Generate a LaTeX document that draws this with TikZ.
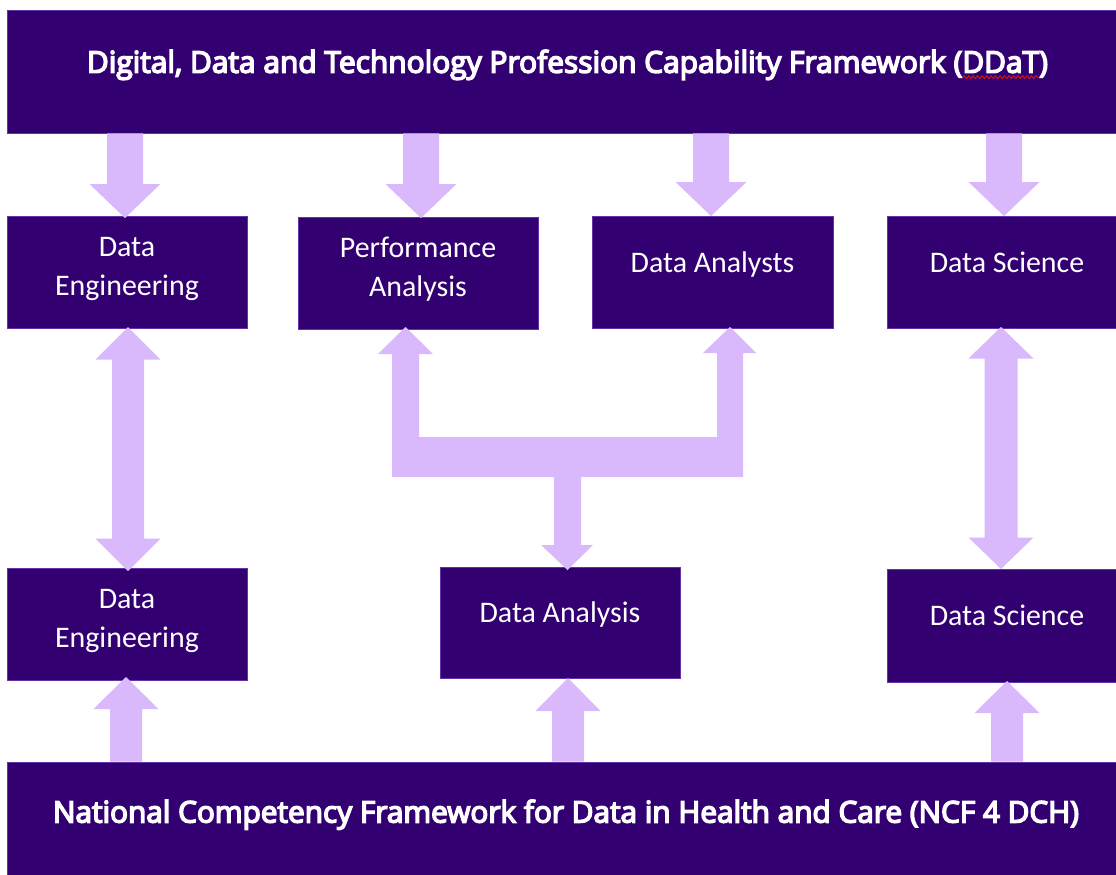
\documentclass[tikz,border=0pt]{standalone}
\usepackage{fontspec}
\setmainfont{Carlito}
\newfontfamily\ttlfont{Open Sans}[FakeBold=5]
\usetikzlibrary{calc,decorations.pathmorphing}
\definecolor{nhspurple}{RGB}{51,0,114}
\definecolor{lav}{RGB}{217,185,251}
\definecolor{edgepurple}{RGB}{100,50,170}
\definecolor{spellred}{RGB}{210,20,20}
\newlength\wavA
\newlength\wavB
\newlength\ttlwA
\newlength\ttlwB
\newcommand{\ddattext}{Digital, Data and Technology Profession Capability Framework (DDaT)}
\newcommand{\ncftext}{National Competency Framework for Data in Health and Care (NCF 4 DCH)}
% single block arrow: #1 tail coordinate, #2 tip coordinate, #3 shaft half width, #4 head half width, #5 head length
\newcommand{\vblock}[5]{%
  \fill[arrowfill] let \p1=(#1), \p2=(#2), \n1={sign(\y1-\y2)} in
    ({\x2-#3},\y1) -- ({\x2-#3},{\y2+\n1*#5}) -- ({\x2-#4},{\y2+\n1*#5}) -- (\x2,\y2)
    -- ({\x2+#4},{\y2+\n1*#5}) -- ({\x2+#3},{\y2+\n1*#5}) -- ({\x2+#3},\y1) -- cycle;}
% double block arrow between two tips
\newcommand{\dblock}[5]{%
  \fill[arrowfill] let \p1=(#1), \p2=(#2), \n1={sign(\y1-\y2)} in
    (\x1,\y1) -- ({\x1+#4},{\y1-\n1*#5}) -- ({\x1+#3},{\y1-\n1*#5}) -- ({\x1+#3},{\y2+\n1*#5})
    -- ({\x1+#4},{\y2+\n1*#5}) -- (\x2,\y2) -- ({\x1-#4},{\y2+\n1*#5}) -- ({\x1-#3},{\y2+\n1*#5})
    -- ({\x1-#3},{\y1-\n1*#5}) -- ({\x1-#4},{\y1-\n1*#5}) -- cycle;}
\tikzset{
  box/.style={fill=nhspurple, draw=edgepurple, line width=0.6bp, inner sep=0pt,
    minimum width=240bp, minimum height=112bp},
  lbl/.style={text=white, font=\fontsize{30}{38.5}\selectfont, align=center, inner sep=0pt},
  ttlA/.style={text=white, font=\ttlfont\fontsize{\ttlsizeA}{\ttlsizeA}\selectfont, inner sep=0pt},
  ttlB/.style={text=white, font=\ttlfont\fontsize{\ttlsizeB}{\ttlsizeB}\selectfont, inner sep=0pt},
  arrowfill/.style={fill=lav},
  wavy/.style={draw=spellred, line width=1bp, decorate,
    decoration={snake, segment length=4.5bp, amplitude=1.4bp}}
}
\begin{document}
% fit the two framework titles to the widths they have in the reference
\settowidth\ttlwA{\ttlfont\fontsize{27}{30}\selectfont\ddattext}%
\settowidth\ttlwB{\ttlfont\fontsize{27}{30}\selectfont\ncftext}%
\pgfmathsetmacro\ttlsizeA{27*(964.6/\ttlwA)}%
\pgfmathsetmacro\ttlsizeB{27*(1029.8/\ttlwB)}%
\settowidth\wavA{\ttlfont\fontsize{\ttlsizeA}{\ttlsizeA}\selectfont DDaT)}%
\settowidth\wavB{\ttlfont\fontsize{\ttlsizeA}{\ttlsizeA}\selectfont )}%
\begin{tikzpicture}[x=1bp,y=-1bp]
\useasboundingbox (0,0) rectangle (1116,875);
\fill[white] (0,0) rectangle (1116,875);
\clip (0,0) rectangle (1116,875);

% frameworks
\node[box, minimum width=1120bp, minimum height=123bp] (ddat) at (567,71.5) {};
\node[box, minimum width=1120bp, minimum height=123bp] (ncf) at (567,823.5) {};

% role boxes, row 1
\node[box] (de1) at (127,272) {};
\node[box] (pa) at (418,273) {};
\node[box, minimum width=241bp] (da) at (712.5,272) {};
\node[box] (ds1) at (1007,272) {};
% role boxes, row 2
\node[box] (de2) at (127,624) {};
\node[box, minimum height=111bp] (dan) at (560,622.5) {};
\node[box, minimum height=113bp] (ds2) at (1007,625.5) {};

% texts
\node[ttlA, anchor=base] (ddatx) at (567.5,72.7) {\ddattext};
\node[ttlB, anchor=base] (ncfx) at (566,822.5) {\ncftext};
\node[lbl, anchor=base] (de1x) at ([yshift=-23bp]de1.center) {Data\\Engineering};
\node[lbl, anchor=base] (pax) at ([yshift=-23bp]pa.center) {Performance\\Analysis};
\node[lbl, anchor=base] (dax) at (da.center) {Data Analysts};
\node[lbl, anchor=base] (ds1x) at (ds1.center) {Data Science};
\node[lbl, anchor=base] (de2x) at ([yshift=-23bp]de2.center) {Data\\Engineering};
\node[lbl, anchor=base] (danx) at (dan.center) {Data Analysis};
\node[lbl, anchor=base] (ds2x) at ([yshift=0.5bp]ds2.center) {Data Science};

% spell-check wave under DDaT
\path[wavy] ([xshift=-\wavA, yshift=-4.5bp]ddatx.base east) -- ([xshift=-\wavB, yshift=-4.5bp]ddatx.base east);

% arrow tips
\coordinate (t1) at (125,218);
\coordinate (t2) at (421,218);
\coordinate (t3) at (711,216);
\coordinate (t4) at (1004,216);
\coordinate (u1) at (126,677);
\coordinate (u2) at (568,678);
\coordinate (u3) at (1007,681);
\coordinate (d1a) at (128,327);
\coordinate (d1b) at (128,571);
\coordinate (d2a) at (1001,327);
\coordinate (d2b) at (1001,569);

% DDaT -> row 1
\vblock{t1 |- ddat.south}{t1}{18bp}{35.5bp}{34bp}
\vblock{t2 |- ddat.south}{t2}{18bp}{35.5bp}{34bp}
\vblock{t3 |- ddat.south}{t3}{18bp}{35.5bp}{34bp}
\vblock{t4 |- ddat.south}{t4}{18bp}{35.5bp}{34bp}

% NCF -> row 2
\vblock{u1 |- ncf.north}{u1}{16bp}{32.5bp}{32bp}
\vblock{u2 |- ncf.north}{u2}{16bp}{32.5bp}{33bp}
\vblock{u3 |- ncf.north}{u3}{16bp}{32.5bp}{32bp}

% two-way links
\dblock{d1a}{d1b}{16bp}{32.5bp}{32.5bp}
\dblock{d2a}{d2b}{16.5bp}{32.5bp}{31.5bp}

% branching arrow: Data Analysis -> Performance Analysis and Data Analysts
\fill[arrowfill] (405.5,327) -- (433,354) -- (419,354) -- (419,437) -- (717,437) -- (717,353)
  -- (703,353) -- (730,327) -- (756,353) -- (743,353) -- (743,477) -- (581,477) -- (581,545)
  -- (593,545) -- (567.5,570) -- (541,545) -- (554,545) -- (554,477) -- (392,477) -- (392,354)
  -- (378,354) -- cycle;
\end{tikzpicture}
\end{document}
